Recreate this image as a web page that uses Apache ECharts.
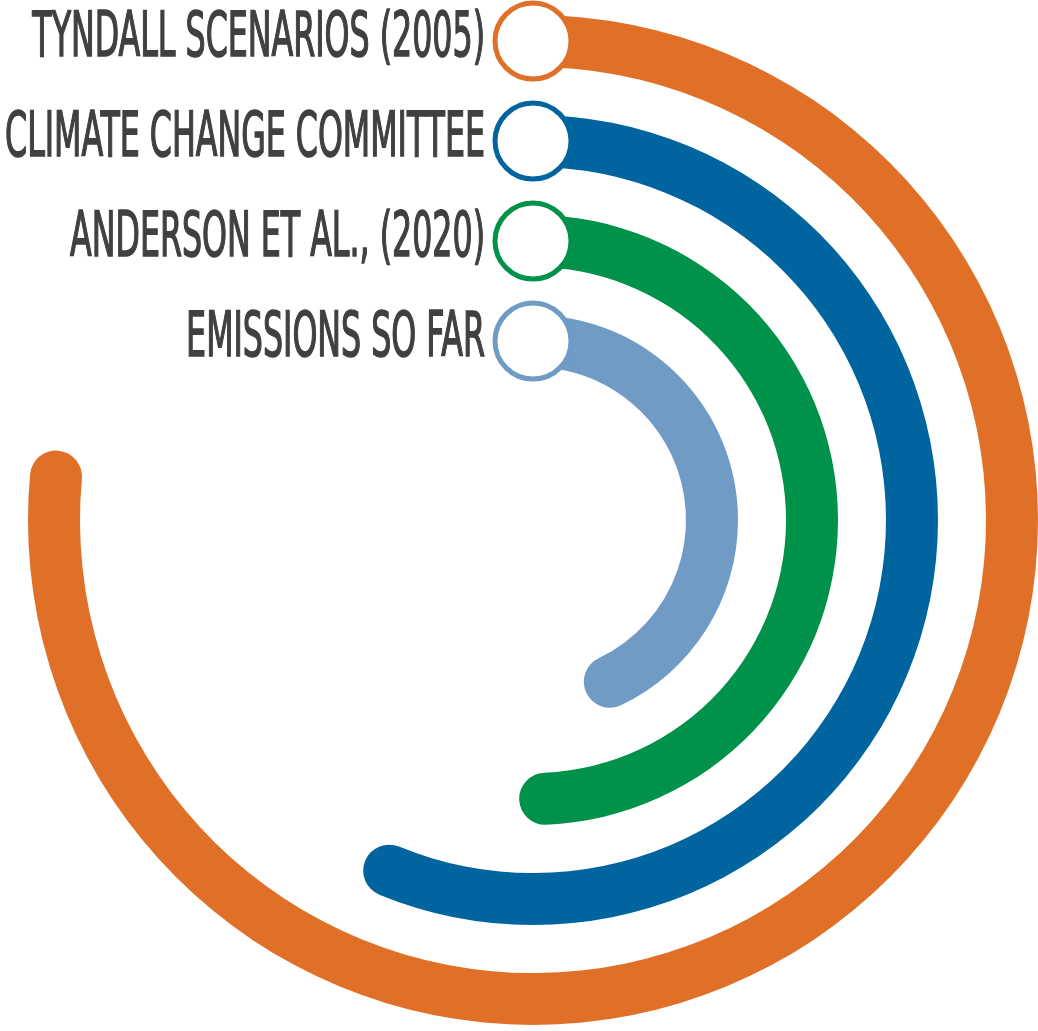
<!DOCTYPE html>
<html>
<head>
<meta charset="utf-8">
<script src="https://cdn.jsdelivr.net/npm/echarts@6/dist/echarts.min.js"></script>
<style>
html,body{margin:0;padding:0;background:#fff;}
#chart{width:1038px;height:1031px;}
</style>
</head>
<body>
<div id="chart"></div>
<script>
// inner ring to outer ring
const categories = ['EMISSIONS SO FAR', 'ANDERSON ET AL., (2020)', 'CLIMATE CHANGE COMMITTEE', 'TYNDALL SCENARIOS (2005)'];
const values = [154.6, 177.5, 202.3, 275.2];
const colors = ['#6F9BC4', '#00914A', '#00659E', '#E07028'];

const FONT_FAMILY = "'DejaVu Sans Condensed', 'DejaVu Sans', sans-serif";
const FONT_SIZE = 62;
const FONT = FONT_SIZE + 'px ' + FONT_FAMILY;
const SYMBOL = 76;

const chart = echarts.init(document.getElementById('chart'), null, {renderer: 'canvas'});
chart.setOption({
  backgroundColor: '#ffffff',
  animation: false,
  polar: { center: [533, 520], radius: [129, 529] },
  angleAxis: { type: 'value', min: 0, max: 360, startAngle: 90, clockwise: true, show: false },
  radiusAxis: { type: 'category', data: categories, show: false },
  series: [
    {
      type: 'bar',
      coordinateSystem: 'polar',
      roundCap: true,
      barWidth: 52,
      data: values.map((v, i) => ({ value: v, itemStyle: { color: colors[i] } })),
      z: 2
    },
    {
      type: 'scatter',
      coordinateSystem: 'polar',
      symbol: 'circle',
      symbolSize: SYMBOL,
      z: 5,
      itemStyle: { opacity: 1 },
      data: categories.map((c, i) => ({
        name: c,
        value: [i, 0],
        itemStyle: { color: '#ffffff', borderColor: colors[i], borderWidth: 5, opacity: 1 }
      })),
      label: { show: false }
    }
  ]
});

// condensed labels placed to the left of each start circle
const ctx = document.createElement('canvas').getContext('2d');
ctx.font = FONT;
const widest = Math.max.apply(null, categories.map(c => ctx.measureText(c).width));
const scaleX = 480 / widest;
const graphics = categories.map((c, i) => {
  const p = chart.convertToPixel({ seriesIndex: 1 }, [i, 0]);
  return {
    type: 'text',
    x: p[0] - SYMBOL / 2 - 10,
    y: p[1] - 1,
    scaleX: scaleX,
    z: 10,
    style: {
      text: c,
      font: FONT,
      fill: '#404040',
      stroke: '#404040',
      lineWidth: 1.6,
      align: 'right',
      verticalAlign: 'middle'
    }
  };
});
chart.setOption({ graphic: graphics });
</script>
</body>
</html>
